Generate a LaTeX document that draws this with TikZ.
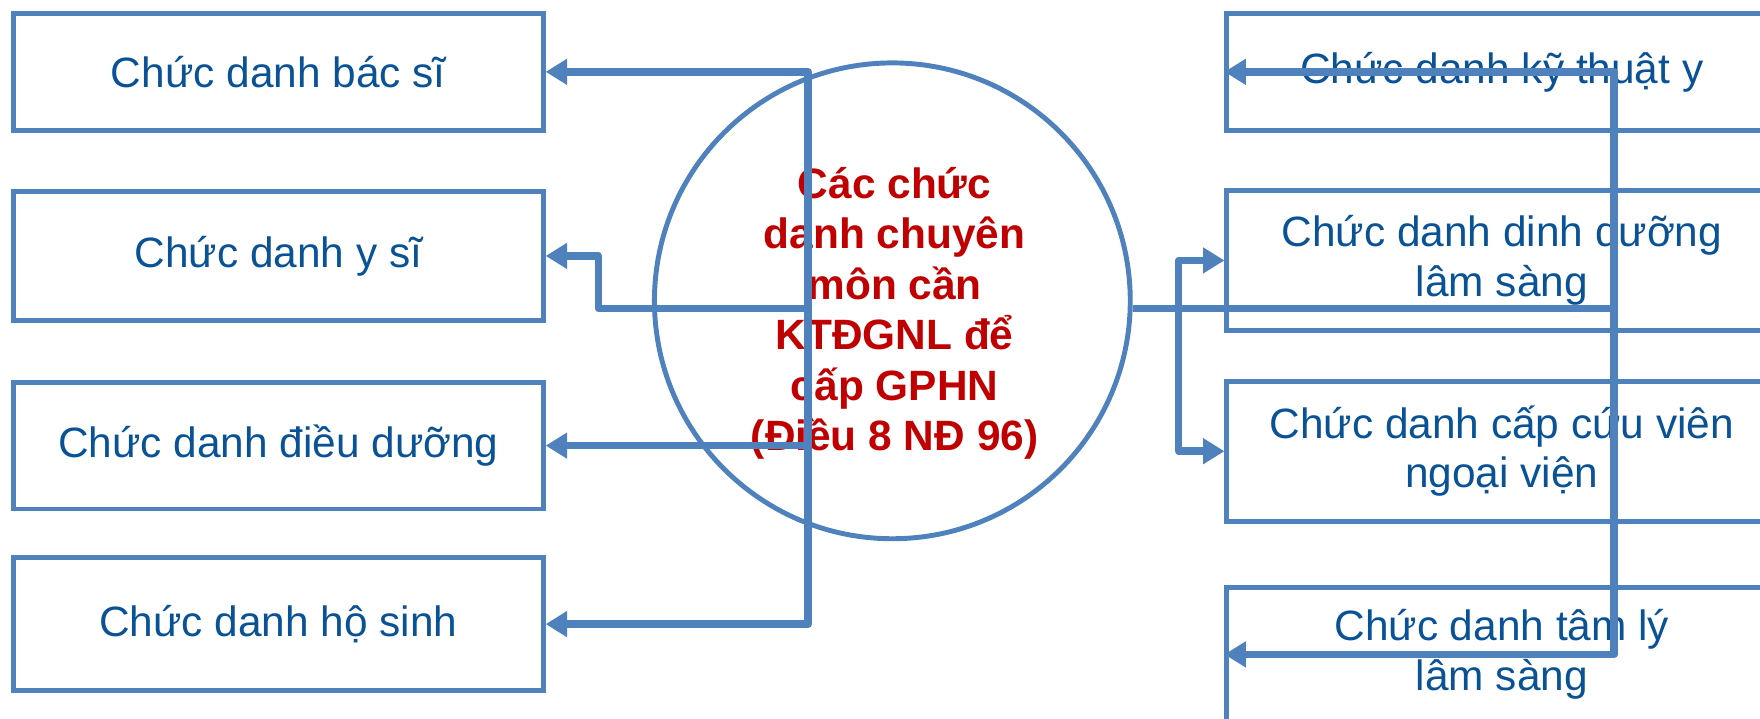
\documentclass[tikz,border=0pt]{standalone}
\usepackage{fontspec}
\setmainfont{Liberation Sans}
\usetikzlibrary{arrows.meta}
\definecolor{lineblue}{RGB}{79,129,189}
\definecolor{textblue}{RGB}{10,82,150}
\definecolor{darkred}{RGB}{192,0,0}
\tikzset{
	box/.style={draw=lineblue, line width=2.5pt, align=center, text=textblue,
		font=\fontsize{21.5}{25}\selectfont},
	leftbox/.style={box, minimum width=9.44cm},
	rightbox/.style={box, minimum width=9.8cm},
	conn/.style={draw=lineblue, line width=3.8pt, line join=round,
		-{Triangle[length=0.38cm,width=0.44cm]}},
}

\begin{document}
\begin{tikzpicture}[x=0.02cm, y=-0.02cm]
	\clip (0,0) rectangle (1568,640);
	% left column
	\node[leftbox, minimum height=2.08cm] (bacsi) at (248,64) {Chức danh bác sĩ};
	\node[leftbox, minimum height=2.3cm] (ysi) at (248,228) {Chức danh y sĩ};
	\node[leftbox, minimum height=2.26cm] (dieuduong) at (248,397) {Chức danh điều dưỡng};
	\node[leftbox, minimum height=2.36cm] (hosinh) at (248,556) {Chức danh hộ sinh};
	% right column
	\node[rightbox, minimum height=2.08cm] (kythuat) at (1338,64) {Chức danh kỹ thuật y};
	\node[rightbox, minimum height=2.5cm] (dinhduong) at (1338,232) {Chức danh dinh dưỡng\\lâm sàng};
	\node[rightbox, minimum height=2.5cm] (capcuu) at (1338,402) {Chức danh cấp cứu viên\\ngoại viện};
	\node[rightbox, minimum height=2.4cm] (tamly) at (1338,583) {Chức danh tâm lý\\lâm sàng};
	% centre
	\node[circle, draw=lineblue, line width=2.5pt, minimum size=8.48cm] (ktdgnl) at (795,268) {};
	\node[align=center, text=darkred, font=\bfseries\fontsize{21.5}{25.6}\selectfont] (ktdgnltext) at (797,279)
		{Các chức\\danh chuyên\\môn cần\\KTĐGNL để\\cấp GPHN\\(Điều 8 NĐ 96)};
	% connectors
	\coordinate (ljoin) at (720,275);
	\coordinate (ysibend) at (533,275);
	\coordinate (rjoin) at (1438,275);
	\coordinate (rsplit) at (1050,275);
	\draw[conn] (ljoin) |- (bacsi.east);
	\draw[conn] (ljoin) -- (ysibend) |- (ysi.east);
	\draw[conn] (ljoin) |- (dieuduong.east);
	\draw[conn] (ljoin) |- (hosinh.east);
	\draw[lineblue, line width=3.8pt] (ktdgnl.east |- rjoin) -- (rjoin);
	\draw[conn] (rjoin) |- (kythuat.west);
	\draw[conn] (rjoin) |- (tamly.west);
	\draw[conn] (rsplit) |- (dinhduong.west);
	\draw[conn] (rsplit) |- (capcuu.west);
\end{tikzpicture}
\end{document}
